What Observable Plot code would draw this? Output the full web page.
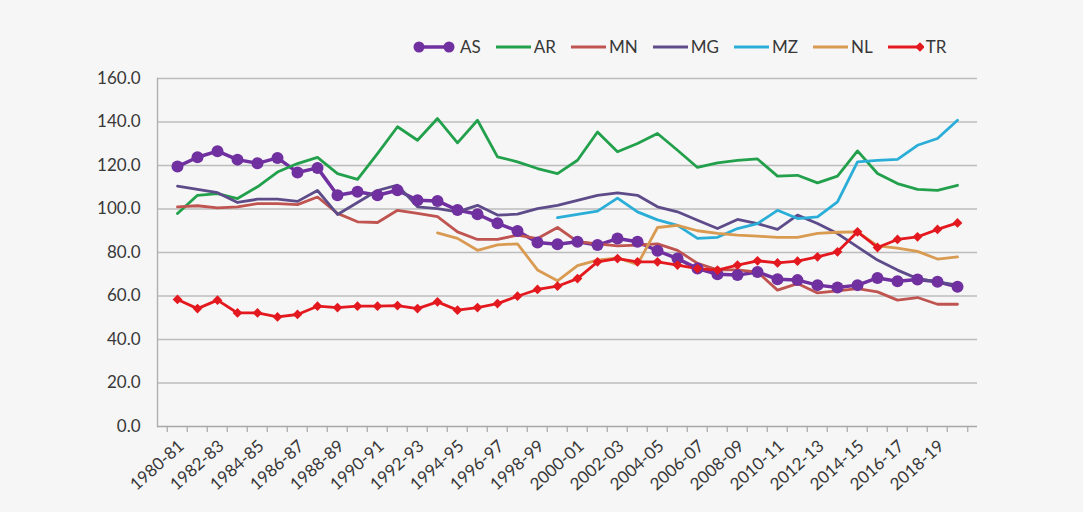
<!DOCTYPE html>
<html><head><meta charset="utf-8">
<script src="https://cdn.jsdelivr.net/npm/d3@7"></script>
<script src="https://cdn.jsdelivr.net/npm/@observablehq/plot@0.6"></script>
<style>
body{margin:0;background:#f6f6f6;font-family:Lato,"Open Sans",sans-serif;}
#legend{position:relative;height:60px;width:1083px;}
#legend .items{position:absolute;left:413px;top:36px;display:flex;align-items:center;gap:14px;font-size:17px;color:#383838;}
.item{display:flex;align-items:center;gap:2px;}
.item svg{display:block}
#chart svg{display:block;background:#f6f6f6}
</style></head><body>
<div id="legend"><div class="items"></div></div>
<div id="chart"></div>
<script>
const years = ["1980-81","1981-82","1982-83","1983-84","1984-85","1985-86","1986-87","1987-88","1988-89","1989-90",
"1990-91","1991-92","1992-93","1993-94","1994-95","1995-96","1996-97","1997-98","1998-99","1999-00",
"2000-01","2001-02","2002-03","2003-04","2004-05","2005-06","2006-07","2007-08","2008-09","2009-10",
"2010-11","2011-12","2012-13","2013-14","2014-15","2015-16","2016-17","2017-18","2018-19","2019-20"];

const seriesNames = ["AS","AR","MN","MG","MZ","NL","TR"];
const seriesColors = ["#7030a0","#23a04c","#bf5450","#5e4c8a","#2aaed8","#d99a52","#e3191f"];

const AS = [119.5,123.8,126.6,122.7,121,123.5,116.8,118.9,106.3,107.9,106.3,108.6,104,103.7,99.5,97.6,93.4,89.9,84.6,83.8,84.9,83.4,86.4,84.9,80.8,77.2,72.6,70,69.6,71,67.7,67.3,65,63.9,65,68.3,66.8,67.6,66.5,64.2];
const AR = [97.9,106.3,107.1,104.8,110.2,117,120.9,123.7,116.3,113.6,125.5,137.8,131.6,141.6,130.4,140.8,124,121.7,118.6,116.3,122.4,135.4,126.3,130.1,134.7,127,119.1,121.2,122.4,123,115.1,115.5,112,115.1,126.7,116.3,111.7,109,108.6,110.9];
const MN = [101,101.5,100.5,101,102.5,102.5,102,105.5,98,94.1,93.8,99.4,98,96.5,89.5,86,86,88,86.4,91.5,85,84,83,83.4,84,81,75,72,72,71,62.7,65.7,61.4,62.4,63.4,61.9,58.1,59.3,56.2,56.2];
const MG = [110.5,109,107.5,103,104.5,104.5,103.5,108.5,97.5,103,108.5,111,101,100.2,98.7,101.7,97.2,97.6,100.2,101.7,104,106.3,107.4,106.3,101,98.7,94.8,91,95.2,93.3,90.6,97.2,93.3,88.7,82.6,76.5,71.9,68,66.5,65];
const MZ = [null,null,null,null,null,null,null,null,null,null,null,null,null,null,null,null,null,null,null,96,97.5,99,105,98.7,95,92.5,86.5,87,91,93.3,99.4,95.6,96.4,103.3,121.7,122.4,122.8,129.3,132.4,140.8];
const NL = [null,null,null,null,null,null,null,null,null,null,null,null,null,89,86.5,81,83.5,84,72,67,74,76.5,77.5,74.5,91.5,92.5,90,88.8,88,87.5,87,87,88.8,89.3,89.5,83,82,80.5,77,78];
const TR = [58.4,54.2,58.1,52.2,52.2,50.4,51.5,55.3,54.7,55.3,55.3,55.6,54.2,57.3,53.5,54.7,56.5,59.9,63,64.5,68,75.7,77.2,75.7,75.7,74.2,72.6,71.9,74.2,76.2,75.2,76,78,80.3,89.5,82.3,86,87.2,90.6,93.6];

const yTicks = [0,20,40,60,80,100,120,140,160];
const xLabelYears = years.filter((d,i) => i % 2 === 0);

const valuesBySeries = {AS, AR, MN, MG, MZ, NL, TR};
const rows = [];
for (const s of seriesNames) {
  valuesBySeries[s].forEach((v,i) => { if (v != null) rows.push({year: years[i], series: s, value: v}); });
}

// legend
const items = d3.select("#legend .items");
seriesNames.forEach((s,k) => {
  const it = items.append("div").attr("class","item");
  const w = s === "AS" ? 42 : 37;
  const sv = it.append("svg").attr("width", w).attr("height", 20);
  const c = seriesColors[k];
  sv.append("line").attr("x1", s==="AS"?6:1).attr("x2", s==="AS"?w-6:w-1).attr("y1",10).attr("y2",10)
    .attr("stroke", c).attr("stroke-width", s==="AS"?3.5:3);
  if (s === "AS") {
    sv.append("circle").attr("cx",6).attr("cy",10).attr("r",5.5).attr("fill",c);
    sv.append("circle").attr("cx",w-6).attr("cy",10).attr("r",5.5).attr("fill",c);
  }
  if (s === "TR") {
    sv.append("path").attr("d", d3.symbol(d3.symbolDiamond2, 60)()).attr("transform",`translate(${w-4},10)`).attr("fill",c);
  }
  it.append("span").text(s).style("margin-left", s==="AS"?"3px":"0");
});

const W = 1083, H = 452, mL = 157, mR = 106, mT = 18, mB = 86;
const step = (W - mL - mR) / years.length;

const chart = Plot.plot({
  width: W, height: H,
  marginLeft: mL, marginRight: mR, marginTop: mT, marginBottom: mB,
  style: {fontFamily: "Lato, 'Open Sans', sans-serif", background: "#f6f6f6", color: "#383838"},
  x: {type: "point", domain: years, padding: 0.5, label: null},
  y: {domain: [0,160], label: null},
  color: {domain: seriesNames, range: seriesColors},
  marks: [
    Plot.gridY(yTicks.filter(d => d > 0), {stroke: "#bdbdbd", strokeOpacity: 1, strokeWidth: 1.4}),
    Plot.frame({anchor: "left", stroke: "#b0b0b0", strokeWidth: 1.4}),
    Plot.ruleY([0], {stroke: "#a8a8a8", strokeWidth: 1.6}),
    Plot.ruleX(years, {x: d => d, y1: 0, y2: 0, insetBottom: -6, dx: -step/2, stroke: "#a8a8a8", strokeWidth: 1.2}),
    Plot.ruleX([years[years.length-1]], {x: d => d, y1: 0, y2: 0, insetBottom: -6, dx: step/2, stroke: "#a8a8a8", strokeWidth: 1.2}),
    Plot.line(rows, {x: "year", y: "value", z: "series", stroke: "series",
      strokeWidth: d => d.series === "AS" ? 3.5 : 2.8, strokeLinejoin: "round", strokeLinecap: "round"}),
    Plot.dot(rows.filter(d => d.series === "AS"), {x: "year", y: "value", r: 6, fill: "series", stroke: "none"}),
    Plot.dot(rows.filter(d => d.series === "TR"), {x: "year", y: "value", r: 4.4, symbol: "diamond2", fill: "series", stroke: "none"}),
    Plot.axisY(yTicks, {tickSize: 0, tickPadding: 17, tickFormat: d3.format(".1f"), fontSize: 17, fill: "#383838"}),
    Plot.axisX(xLabelYears, {tickSize: 0, tickPadding: 17, tickRotate: -42, fontSize: 17, fill: "#383838", dx: 4})
  ]
});
document.getElementById("chart").appendChild(chart);
</script>
</body></html>
